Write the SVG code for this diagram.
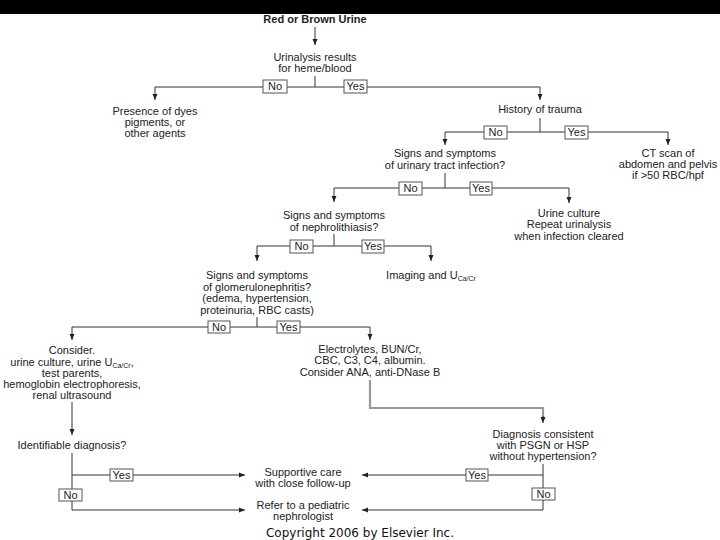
<svg xmlns="http://www.w3.org/2000/svg" width="720" height="540" viewBox="0 0 720 540">
<defs>
<marker id="ah" markerUnits="userSpaceOnUse" markerWidth="6" markerHeight="6" refX="6" refY="3" orient="auto">
<path d="M0,0.5 L6,3 L0,5.5 z" fill="#222"/>
</marker>
<style>
text{font-family:"Liberation Sans",Arial,sans-serif;font-size:11px;fill:#222;text-anchor:middle}
.b{font-weight:bold}
.sub{font-size:7px}
.ln{fill:none;stroke:#333;stroke-width:1}
.gr{fill:none;stroke:#999;stroke-width:2.2}
.bx{fill:#fff;stroke:#555;stroke-width:1}
.cp{font-family:"DejaVu Sans",Verdana,sans-serif;font-size:12px;fill:#111}
</style>
</defs>
<rect x="0" y="0" width="720" height="540" fill="#fff"/>
<rect x="0" y="0" width="720" height="14" fill="#000"/>

<g id="connectors">
<path class="ln" d="M315,27 V45" marker-end="url(#ah)"/>
<path class="ln" d="M315,76 V87 M155,87 H540"/>
<path class="ln" d="M155,87 V100" marker-end="url(#ah)"/>
<path class="ln" d="M540,87 V100" marker-end="url(#ah)"/>
<path class="ln" d="M540,118 V132 M445,132 H668"/>
<path class="ln" d="M445,132 V145" marker-end="url(#ah)"/>
<path class="ln" d="M668,132 V145" marker-end="url(#ah)"/>
<path class="ln" d="M445,173 V188 M334,188 H569"/>
<path class="ln" d="M334,188 V202" marker-end="url(#ah)"/>
<path class="ln" d="M569,188 V203" marker-end="url(#ah)"/>
<path class="ln" d="M334,234 V246 M257,246 H431"/>
<path class="ln" d="M257,246 V261" marker-end="url(#ah)"/>
<path class="ln" d="M431,246 V261" marker-end="url(#ah)"/>
<path class="ln" d="M257,317 V327 M72,327 H370"/>
<path class="ln" d="M72,327 V340" marker-end="url(#ah)"/>
<path class="ln" d="M370,327 V340" marker-end="url(#ah)"/>
<path class="ln" d="M72,402 V435" marker-end="url(#ah)"/>
<path class="ln" d="M72,453 V510"/>
<path class="ln" d="M72,475 H245" marker-end="url(#ah)"/>
<path class="ln" d="M72,510 H245" marker-end="url(#ah)"/>
<path class="gr" d="M370,380 V408 H543 V418"/>
<path class="ln" d="M543,416 V423" marker-end="url(#ah)"/>
<path class="ln" d="M543,464 V510"/>
<path class="ln" d="M543,475 H362" marker-end="url(#ah)"/>
<path class="ln" d="M543,510 H362" marker-end="url(#ah)"/>
<g id="labels">
<rect class="bx" x="263" y="80" width="24" height="13"/><text x="275" y="90">No</text>
<rect class="bx" x="344" y="80" width="23" height="13"/><text x="355.5" y="90">Yes</text>
<rect class="bx" x="484" y="126" width="23" height="13"/><text x="495.5" y="136">No</text>
<rect class="bx" x="565" y="126" width="23" height="13"/><text x="576.5" y="136">Yes</text>
<rect class="bx" x="399" y="182" width="23" height="13"/><text x="410.5" y="192">No</text>
<rect class="bx" x="470" y="182" width="22" height="13"/><text x="481" y="192">Yes</text>
<rect class="bx" x="290" y="240" width="23" height="13"/><text x="301.5" y="250">No</text>
<rect class="bx" x="362" y="240" width="22" height="13"/><text x="373" y="250">Yes</text>
<rect class="bx" x="208" y="321" width="22" height="12"/><text x="219" y="331">No</text>
<rect class="bx" x="277" y="321" width="23" height="12"/><text x="288.5" y="331">Yes</text>
<rect class="bx" x="110" y="469" width="23" height="12"/><text x="121.5" y="479">Yes</text>
<rect class="bx" x="59" y="489" width="23" height="12"/><text x="70.5" y="499">No</text>
<rect class="bx" x="466" y="469" width="22" height="12"/><text x="477" y="479">Yes</text>
<rect class="bx" x="532" y="488" width="23" height="12"/><text x="543.5" y="498">No</text>
</g>
</g>

<g id="n-start"><text class="b" x="315" y="23">Red or Brown Urine</text></g>
<g id="n-urinalysis"><text x="315" y="61">Urinalysis results</text><text x="315" y="72">for heme/blood</text></g>
<g id="n-dyes"><text x="155" y="115">Presence of dyes</text><text x="155" y="126">pigments, or</text><text x="155" y="137">other agents</text></g>
<g id="n-trauma"><text x="540" y="113">History of trauma</text></g>
<g id="n-uti"><text x="445" y="157">Signs and symptoms</text><text x="445" y="169">of urinary tract infection?</text></g>
<g id="n-ct"><text x="668" y="157">CT scan of</text><text x="668" y="168">abdomen and pelvis</text><text x="668" y="179">if &gt;50 RBC/hpf</text></g>
<g id="n-culture"><text x="569" y="217">Urine culture</text><text x="569" y="228">Repeat urinalysis</text><text x="569" y="240">when infection cleared</text></g>
<g id="n-nephro"><text x="334" y="219">Signs and symptoms</text><text x="334" y="231">of nephrolithiasis?</text></g>
<g id="n-imaging"><text x="431" y="279">Imaging and U<tspan class="sub" dy="2">Ca/Cr</tspan></text></g>
<g id="n-glomerulo"><text x="257" y="279">Signs and symptoms</text><text x="257" y="291">of glomerulonephritis?</text><text x="257" y="302">(edema, hypertension,</text><text x="257" y="314">proteinuria, RBC casts)</text></g>
<g id="n-consider"><text x="72" y="354">Consider.</text><text x="72" y="366">urine culture, urine U<tspan class="sub" dy="2">Ca/Cr</tspan><tspan dy="-2">,</tspan></text><text x="72" y="377">test parents,</text><text x="72" y="388">hemoglobin electrophoresis,</text><text x="72" y="399">renal ultrasound</text></g>
<g id="n-electrolytes"><text x="370" y="353">Electrolytes, BUN/Cr,</text><text x="370" y="364">CBC, C3, C4, albumin.</text><text x="370" y="376">Consider ANA, anti-DNase B</text></g>
<g id="n-identifiable"><text x="72" y="449">Identifiable diagnosis?</text></g>
<g id="n-psgn"><text x="543" y="438">Diagnosis consistent</text><text x="543" y="449">with PSGN or HSP</text><text x="543" y="460">without hypertension?</text></g>
<g id="n-supportive"><text x="303" y="476">Supportive care</text><text x="303" y="487">with close follow-up</text></g>
<g id="n-refer"><text x="303" y="509">Refer to a pediatric</text><text x="303" y="520">nephrologist</text></g>
<text class="cp" x="360" y="537">Copyright 2006 by Elsevier Inc.</text>
</svg>
